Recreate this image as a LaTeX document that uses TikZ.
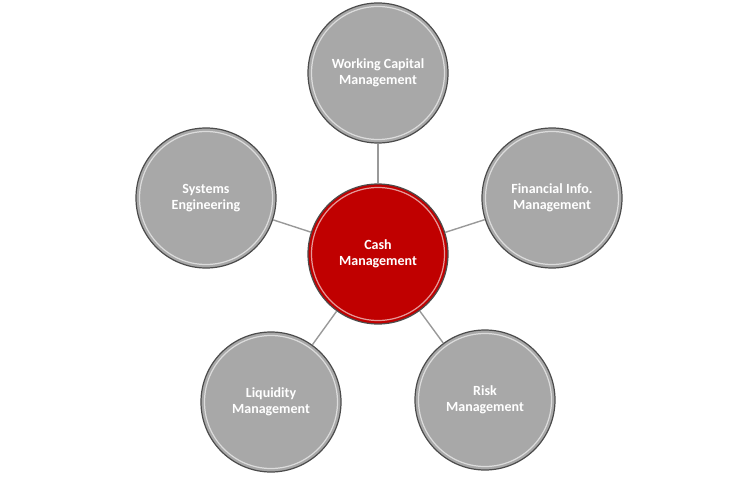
\documentclass[tikz,border=0pt]{standalone}
\usepackage{fontspec}
\setmainfont{Carlito}
\begin{document}
\begin{tikzpicture}[x=1pt,y=-1pt,
  bubble/.style={circle, minimum size=140pt, inner sep=0pt, draw=black!70, line width=1.2pt,
    text=white, align=center, font=\bfseries\fontsize{14}{16}\selectfont,
    path picture={\draw[white, line width=1.2pt, opacity=.6]
      (path picture bounding box.center) circle (66.5pt);}},
  grey/.style={bubble, fill=gray!68!white},
  hub/.style={bubble, fill={rgb,255:red,192;green,0;blue,0}},
  link/.style={draw=gray!80, line width=1.4pt}]
\useasboundingbox (0,0) rectangle (750,500);
\node[hub]  (c)  at (378,254) {Cash\\Management};
\node[grey] (wc) at (378,73)  {Working Capital\\Management};
\node[grey] (se) at (206,198) {Systems\\Engineering};
\node[grey] (fi) at (552,198) {Financial Info.\\Management};
\node[grey] (lm) at (271,402) {Liquidity\\Management};
\node[grey] (rm) at (485,400) {Risk\\Management};
\foreach \n in {wc,se,fi,lm,rm} \draw[link] (c) -- (\n);
\end{tikzpicture}
\end{document}
